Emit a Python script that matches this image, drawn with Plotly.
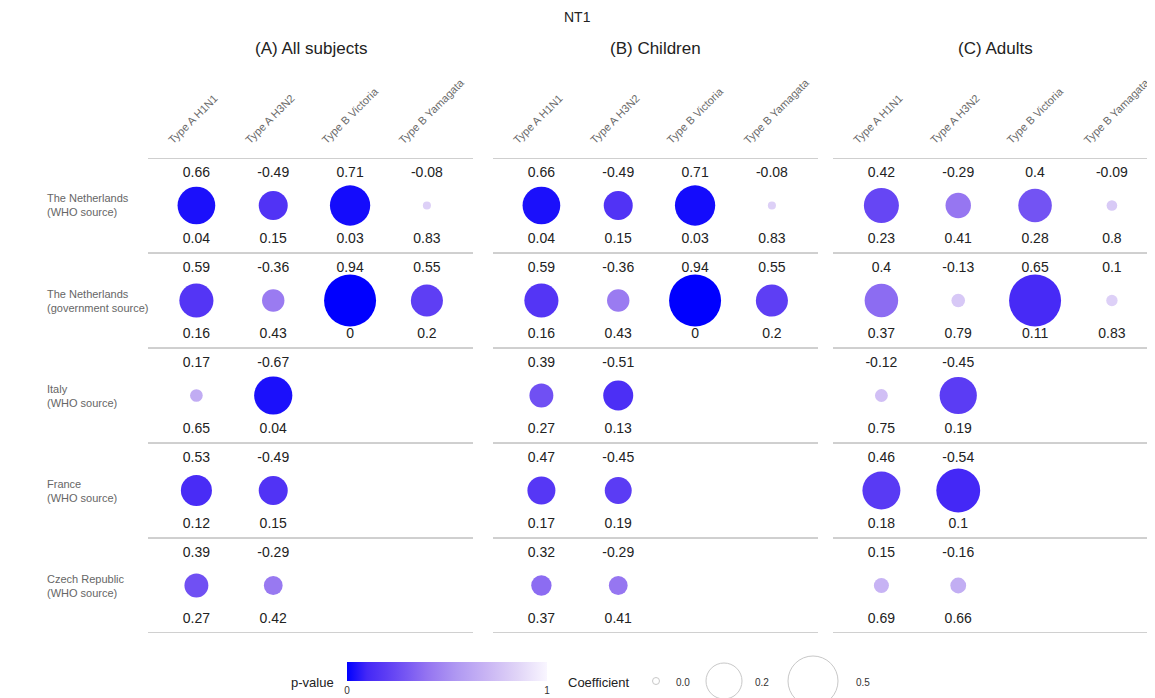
import plotly.graph_objects as go

# rows / columns
rows = ["The Netherlands<br>(WHO source)",
        "The Netherlands<br>(government source)",
        "Italy<br>(WHO source)",
        "France<br>(WHO source)",
        "Czech Republic<br>(WHO source)"]
strains = ["Type A H1N1", "Type A H3N2", "Type B Victoria", "Type B Yamagata"]
panels = ["(A) All subjects", "(B) Children", "(C) Adults"]

# correlation coefficients (None = no data)
coef_all = [[0.66, -0.49, 0.71, -0.08],
            [0.59, -0.36, 0.94, 0.55],
            [0.17, -0.67, None, None],
            [0.53, -0.49, None, None],
            [0.39, -0.29, None, None]]
coef_children = [[0.66, -0.49, 0.71, -0.08],
                 [0.59, -0.36, 0.94, 0.55],
                 [0.39, -0.51, None, None],
                 [0.47, -0.45, None, None],
                 [0.32, -0.29, None, None]]
coef_adults = [[0.42, -0.29, 0.4, -0.09],
               [0.4, -0.13, 0.65, 0.1],
               [-0.12, -0.45, None, None],
               [0.46, -0.54, None, None],
               [0.15, -0.16, None, None]]

# p-values
p_all = [[0.04, 0.15, 0.03, 0.83],
         [0.16, 0.43, 0, 0.2],
         [0.65, 0.04, None, None],
         [0.12, 0.15, None, None],
         [0.27, 0.42, None, None]]
p_children = [[0.04, 0.15, 0.03, 0.83],
              [0.16, 0.43, 0, 0.2],
              [0.27, 0.13, None, None],
              [0.17, 0.19, None, None],
              [0.37, 0.41, None, None]]
p_adults = [[0.23, 0.41, 0.28, 0.8],
            [0.37, 0.79, 0.11, 0.83],
            [0.75, 0.19, None, None],
            [0.18, 0.1, None, None],
            [0.69, 0.66, None, None]]

legend_coef = [0.0, 0.2, 0.5]

# page has an 8px body margin, so work in screen pixels and shift
OFF = 8
W, H = 1155 - OFF, 698 - OFF
def px(x):
    return (x - OFF) / W
def py(y):
    return 1 - (y - OFF) / H

FONT = "Liberation Sans, Arial, sans-serif"
SCALE = [[0, "#0000ff"], [0.1, "#4428f6"], [0.2, "#5e3ef4"], [0.3, "#7858f3"],
         [0.4, "#9474f1"], [0.55, "#b099f2"], [0.7, "#c9b5f4"], [0.85, "#e0d4f7"],
         [1, "#f9f6ff"]]

panel_px = [(148, 473), (493, 818), (833, 1158)]
top_px, bot_px = 158, 633
DMAX, DMIN = 52, 4

fig = go.Figure()

datasets = [(coef_all, p_all), (coef_children, p_children), (coef_adults, p_adults)]
for k, (coef, pv) in enumerate(datasets):
    xa = "x" if k == 0 else "x%d" % (k + 1)
    xs, ys, cs, ps = [], [], [], []
    for i in range(len(rows)):
        for j in range(len(strains)):
            if coef[i][j] is None:
                continue
            xs.append(j)
            ys.append(i)
            cs.append(coef[i][j])
            ps.append(pv[i][j])
    cmax = max(abs(c) for c in cs)
    fig.add_trace(go.Scatter(
        x=xs, y=ys, xaxis=xa, yaxis="y", mode="markers",
        marker=dict(size=[DMIN + (DMAX - DMIN) * abs(c) / cmax for c in cs],
                    sizemode="diameter",
                    color=ps, cmin=0, cmax=1, colorscale=SCALE,
                    line=dict(width=0), opacity=1,
                    showscale=(k == 0),
                    colorbar=dict(orientation="h", x=px(447), xanchor="center",
                                  y=py(662), yanchor="top",
                                  lenmode="pixels", len=200, thickness=19,
                                  xpad=0, ypad=0, outlinewidth=0,
                                  tickvals=[0, 1], ticktext=["0", "1"], ticks="",
                                  tickfont=dict(size=10, color="#333", family=FONT))),
        hoverinfo="skip", showlegend=False))
    # coefficient above, p-value below
    fig.add_trace(go.Scatter(
        x=xs, y=[y - 0.342 for y in ys], xaxis=xa, yaxis="y", mode="text",
        text=[str(c) for c in cs], textfont=dict(size=14, color="#222", family=FONT),
        hoverinfo="skip", showlegend=False))
    fig.add_trace(go.Scatter(
        x=xs, y=[y + 0.363 for y in ys], xaxis=xa, yaxis="y", mode="text",
        text=[str(p) for p in ps], textfont=dict(size=14, color="#222", family=FONT),
        hoverinfo="skip", showlegend=False))

layout = dict(
    width=W, height=H, margin=dict(l=0, r=0, t=0, b=0),
    paper_bgcolor="white", plot_bgcolor="white",
    font=dict(family=FONT),
    yaxis=dict(range=[len(rows) - 0.5, -0.5], domain=[py(bot_px), py(top_px)],
               visible=False, fixedrange=True),
)
unit = (panel_px[0][1] - panel_px[0][0]) / 4.23
for k, (a, b) in enumerate(panel_px):
    name = "xaxis" if k == 0 else "xaxis%d" % (k + 1)
    bb = min(b, OFF + W)
    layout[name] = dict(domain=[px(a), px(bb)],
                        range=[-0.63, -0.63 + (bb - a) / unit],
                        visible=False, fixedrange=True, anchor="y")
fig.update_layout(**layout)

shapes = []
annotations = []
for k, (a, b) in enumerate(panel_px):
    xr = "x" if k == 0 else "x%d" % (k + 1)
    for i in range(len(rows) + 1):
        shapes.append(dict(type="line", xref=xr + " domain", yref="y",
                           x0=0, x1=1, y0=i - 0.5, y1=i - 0.5,
                           line=dict(color="#a0a0a0", width=1)))
    annotations.append(dict(text=panels[k], xref="paper", yref="paper",
                            x=px((a + b) / 2), y=py(48), xanchor="center", yanchor="middle",
                            showarrow=False, font=dict(size=17, color="#222")))
    for j, s in enumerate(strains):
        annotations.append(dict(text=s, xref=xr, yref="paper", x=j, y=py(149),
                                xanchor="left", yanchor="bottom", xshift=-33,
                                textangle=-45, showarrow=False,
                                font=dict(size=11, color="#6a6a6a")))

for i, r in enumerate(rows):
    annotations.append(dict(text=r, xref="paper", yref="y", x=px(45), y=i,
                            xanchor="left", yanchor="middle", align="left", showarrow=False,
                            font=dict(size=11, color="#666")))

annotations.append(dict(text="NT1", xref="paper", yref="paper", x=px(577), y=py(17),
                        xanchor="center", yanchor="middle",
                        showarrow=False, font=dict(size=14, color="#222")))
annotations.append(dict(text="p-value", xref="paper", yref="paper", x=px(312), y=py(682),
                        xanchor="center", yanchor="middle",
                        showarrow=False, font=dict(size=13, color="#222")))
annotations.append(dict(text="Coefficient", xref="paper", yref="paper", x=px(599), y=py(682),
                        xanchor="center", yanchor="middle",
                        showarrow=False, font=dict(size=13, color="#222")))

# coefficient size legend
leg_cx = [656, 724, 813]
leg_r = [3.5, 18, 25]
leg_lx = [683, 762, 863]
for c, cx, rr, lx in zip(legend_coef, leg_cx, leg_r, leg_lx):
    shapes.append(dict(type="circle", xref="paper", yref="paper",
                       xsizemode="pixel", ysizemode="pixel",
                       xanchor=px(cx), yanchor=py(681),
                       x0=-rr, x1=rr, y0=-rr, y1=rr,
                       line=dict(color="#c8c8c8", width=1)))
    annotations.append(dict(text="%.1f" % c, xref="paper", yref="paper",
                            x=px(lx), y=py(682), xanchor="center", yanchor="middle",
                            showarrow=False, font=dict(size=10, color="#333")))

fig.update_layout(shapes=shapes, annotations=annotations)

fig.write_html("out.html")
